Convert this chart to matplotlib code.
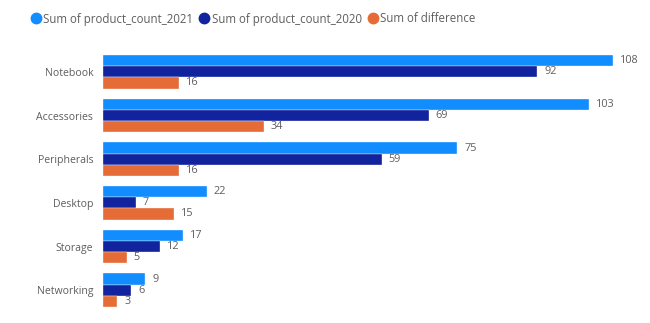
import matplotlib
matplotlib.use("Agg")
import matplotlib.pyplot as plt
import numpy as np
from matplotlib.lines import Line2D

categories = ["Notebook", "Accessories", "Peripherals", "Desktop", "Storage", "Networking"]
count_2021 = [108, 103, 75, 22, 17, 9]
count_2020 = [92, 69, 59, 7, 12, 6]
difference = [16, 34, 16, 15, 5, 3]
series_names = ["Sum of product_count_2021", "Sum of product_count_2020", "Sum of difference"]
colors = ["#118DFF", "#12239E", "#E66C37"]

plt.rcParams['font.family'] = ['Open Sans', 'DejaVu Sans']
text_color = "#605E5C"

W, H = 650, 323
fig = plt.figure(figsize=(W / 100, H / 100), dpi=100)
ax = fig.add_axes([103 / W, (H - 312) / H, (646 - 103) / W, (312 - 50) / H])

y = np.arange(len(categories))
bh = 0.255
series = [count_2021, count_2020, difference]
for i, (vals, col) in enumerate(zip(series, colors)):
    pos = y + (i - 1) * bh
    ax.barh(pos, vals, height=bh, color=col, edgecolor="white", linewidth=0.25)
    for p, v in zip(pos, vals):
        ax.annotate(str(v), (v, p), xytext=(5, 0), textcoords="offset points",
                    va="center", ha="left", fontsize=7.8, color=text_color)

ax.set_xlim(0, 115)
ax.set_ylim(len(categories) - 0.5, -0.5)
ax.set_yticks(y)
ax.set_yticklabels(categories, fontsize=7.6, color=text_color)
ax.tick_params(axis="y", length=0, pad=7)
ax.set_xticks([])
for s in ax.spines.values():
    s.set_visible(False)

handles = [Line2D([0], [0], marker="o", linestyle="", markersize=7.5,
                  markerfacecolor=c, markeredgecolor=c) for c in colors]
fig.legend(handles, series_names, loc="center left", bbox_to_anchor=(27 / W, 1 - 19 / H),
           ncol=3, frameon=False, fontsize=8.3, handletextpad=-0.1, columnspacing=0.2,
           handlelength=1.5, labelcolor=text_color, borderaxespad=0, borderpad=0)

fig.savefig("out.png", dpi=100)
